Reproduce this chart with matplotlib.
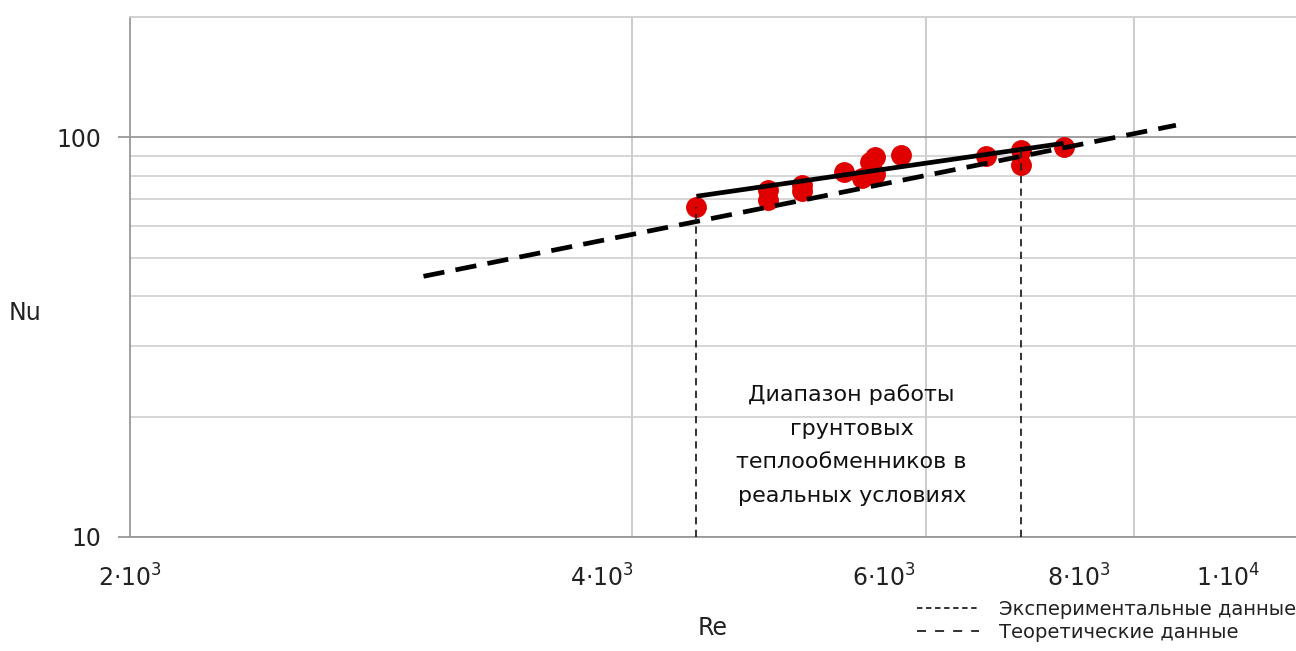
import matplotlib
matplotlib.use("Agg")
import matplotlib.pyplot as plt
import matplotlib.transforms as mtransforms
from matplotlib.lines import Line2D
from matplotlib.ticker import FixedLocator, NullFormatter

plt.rcParams['font.family'] = ['DejaVu Sans']
plt.rcParams['mathtext.default'] = 'regular'

# ---- data ----
re_points = [4371, 4828, 4828, 5059, 5059, 5357, 5497, 5553, 5590, 5596, 5797, 6521, 6841, 6841, 7255]
nu_points = [66.8, 73.7, 69.6, 75.9, 73.3, 81.8, 79.0, 86.6, 89.1, 80.8, 90.2, 89.6, 92.8, 85.1, 94.4]

exp_re = [4371, 7255]
exp_nu = [71.2, 96.6]

theo_re = [2999, 8473]
theo_nu = [44.9, 107.2]

range_re = [4371, 6841]
range_nu_top = [66.8, 92.8]

x_ticks = [2000, 4000, 6000, 8000, 10000]
x_labels = [r'$2{\cdot}10^{3}$', r'$4{\cdot}10^{3}$', r'$6{\cdot}10^{3}$', r'$8{\cdot}10^{3}$', r'$1{\cdot}10^{4}$']
x_label_shift_px = [0, -30, -42, -55, -68]
x_grid = [4000, 6000, 8000]
y_ticks = [10, 100]
y_labels = ['10', '100']
y_minor = [20, 30, 40, 50, 60, 70, 80, 90]

annotation = 'Диапазон работы\nгрунтовых\nтеплообменников в\nреальных условиях'
legend_labels = ['Экспериментальные данные', 'Теоретические данные']

# ---- figure ----
W, H, DPI = 1296, 651, 100
fig = plt.figure(figsize=(W / DPI, H / DPI), dpi=DPI)
ax = fig.add_axes([130 / W, 1 - 537 / H, (W - 130) / W, (537 - 17) / H])
ax.set_xscale('log')
ax.set_yscale('log')
ax.set_xlim(2000, 10000)
ax.set_ylim(10, 200)

ax.xaxis.set_major_locator(FixedLocator(x_ticks))
ax.xaxis.set_minor_locator(FixedLocator([]))
ax.set_xticklabels(x_labels)
ax.yaxis.set_major_locator(FixedLocator(y_ticks))
ax.yaxis.set_minor_locator(FixedLocator(y_minor))
ax.yaxis.set_minor_formatter(NullFormatter())
ax.set_yticklabels(y_labels)

for xv in x_grid:
    ax.axvline(xv, color='#c4c4c4', lw=1.2, zorder=0)
ax.grid(True, which='minor', axis='y', color='#cfcfcf', lw=1.2, zorder=0)
ax.grid(True, which='major', axis='y', color='#9a9a9a', lw=1.3, zorder=0)

for s in ['left', 'bottom']:
    ax.spines[s].set_color('#999999')
    ax.spines[s].set_linewidth(1.3)
ax.spines['top'].set_color('#cfcfcf')
ax.spines['top'].set_linewidth(1.3)
ax.spines['right'].set_visible(False)

ax.tick_params(axis='x', which='both', length=0, pad=20, labelsize=17, colors='#222222')
ax.tick_params(axis='y', which='major', length=9, width=1.3, color='#999999', pad=12,
               labelsize=17, labelcolor='#222222')
ax.tick_params(axis='y', which='minor', length=0)

for lab, dx in zip(ax.get_xticklabels(), x_label_shift_px):
    lab.set_transform(lab.get_transform() + mtransforms.ScaledTranslation(dx / DPI, 0, fig.dpi_scale_trans))

ax.set_xlabel('Re', fontsize=17, color='#222222', labelpad=17)
ax.set_ylabel('Nu', fontsize=17, color='#222222', rotation=0, va='center', ha='center')
ax.yaxis.set_label_coords(-0.09, 0.43)

# data
ax.plot(re_points, nu_points, 'o', color='#e00000', markersize=14, zorder=3)
ax.plot(exp_re, exp_nu, '-', color='black', lw=3.4, solid_capstyle='butt', zorder=4)
ax.plot(theo_re, theo_nu, color='black', lw=3.4, dashes=(4.5, 2.4), dash_capstyle='butt', zorder=4)
for xv, yt in zip(range_re, range_nu_top):
    ax.plot([xv, xv], [10, yt], color='#222222', lw=1.3, dashes=(4, 3), zorder=5)

ax.text(5416, 17.0, annotation, ha='center', va='center', fontsize=16, color='#111111',
        linespacing=1.85, zorder=6)

handles = [Line2D([], [], color='#222222', lw=1.3, dashes=(3, 2)),
           Line2D([], [], color='#222222', lw=1.3, dashes=(5, 5))]
fig.legend(handles, legend_labels, loc='center right', bbox_to_anchor=(1.0, 1 - 621 / H),
           bbox_transform=fig.transFigure, frameon=False, fontsize=14, handlelength=3.2,
           handletextpad=1.0, labelspacing=0.2, borderpad=0.0, borderaxespad=0.0,
           labelcolor='#222222')

fig.savefig('out.png', dpi=DPI)
